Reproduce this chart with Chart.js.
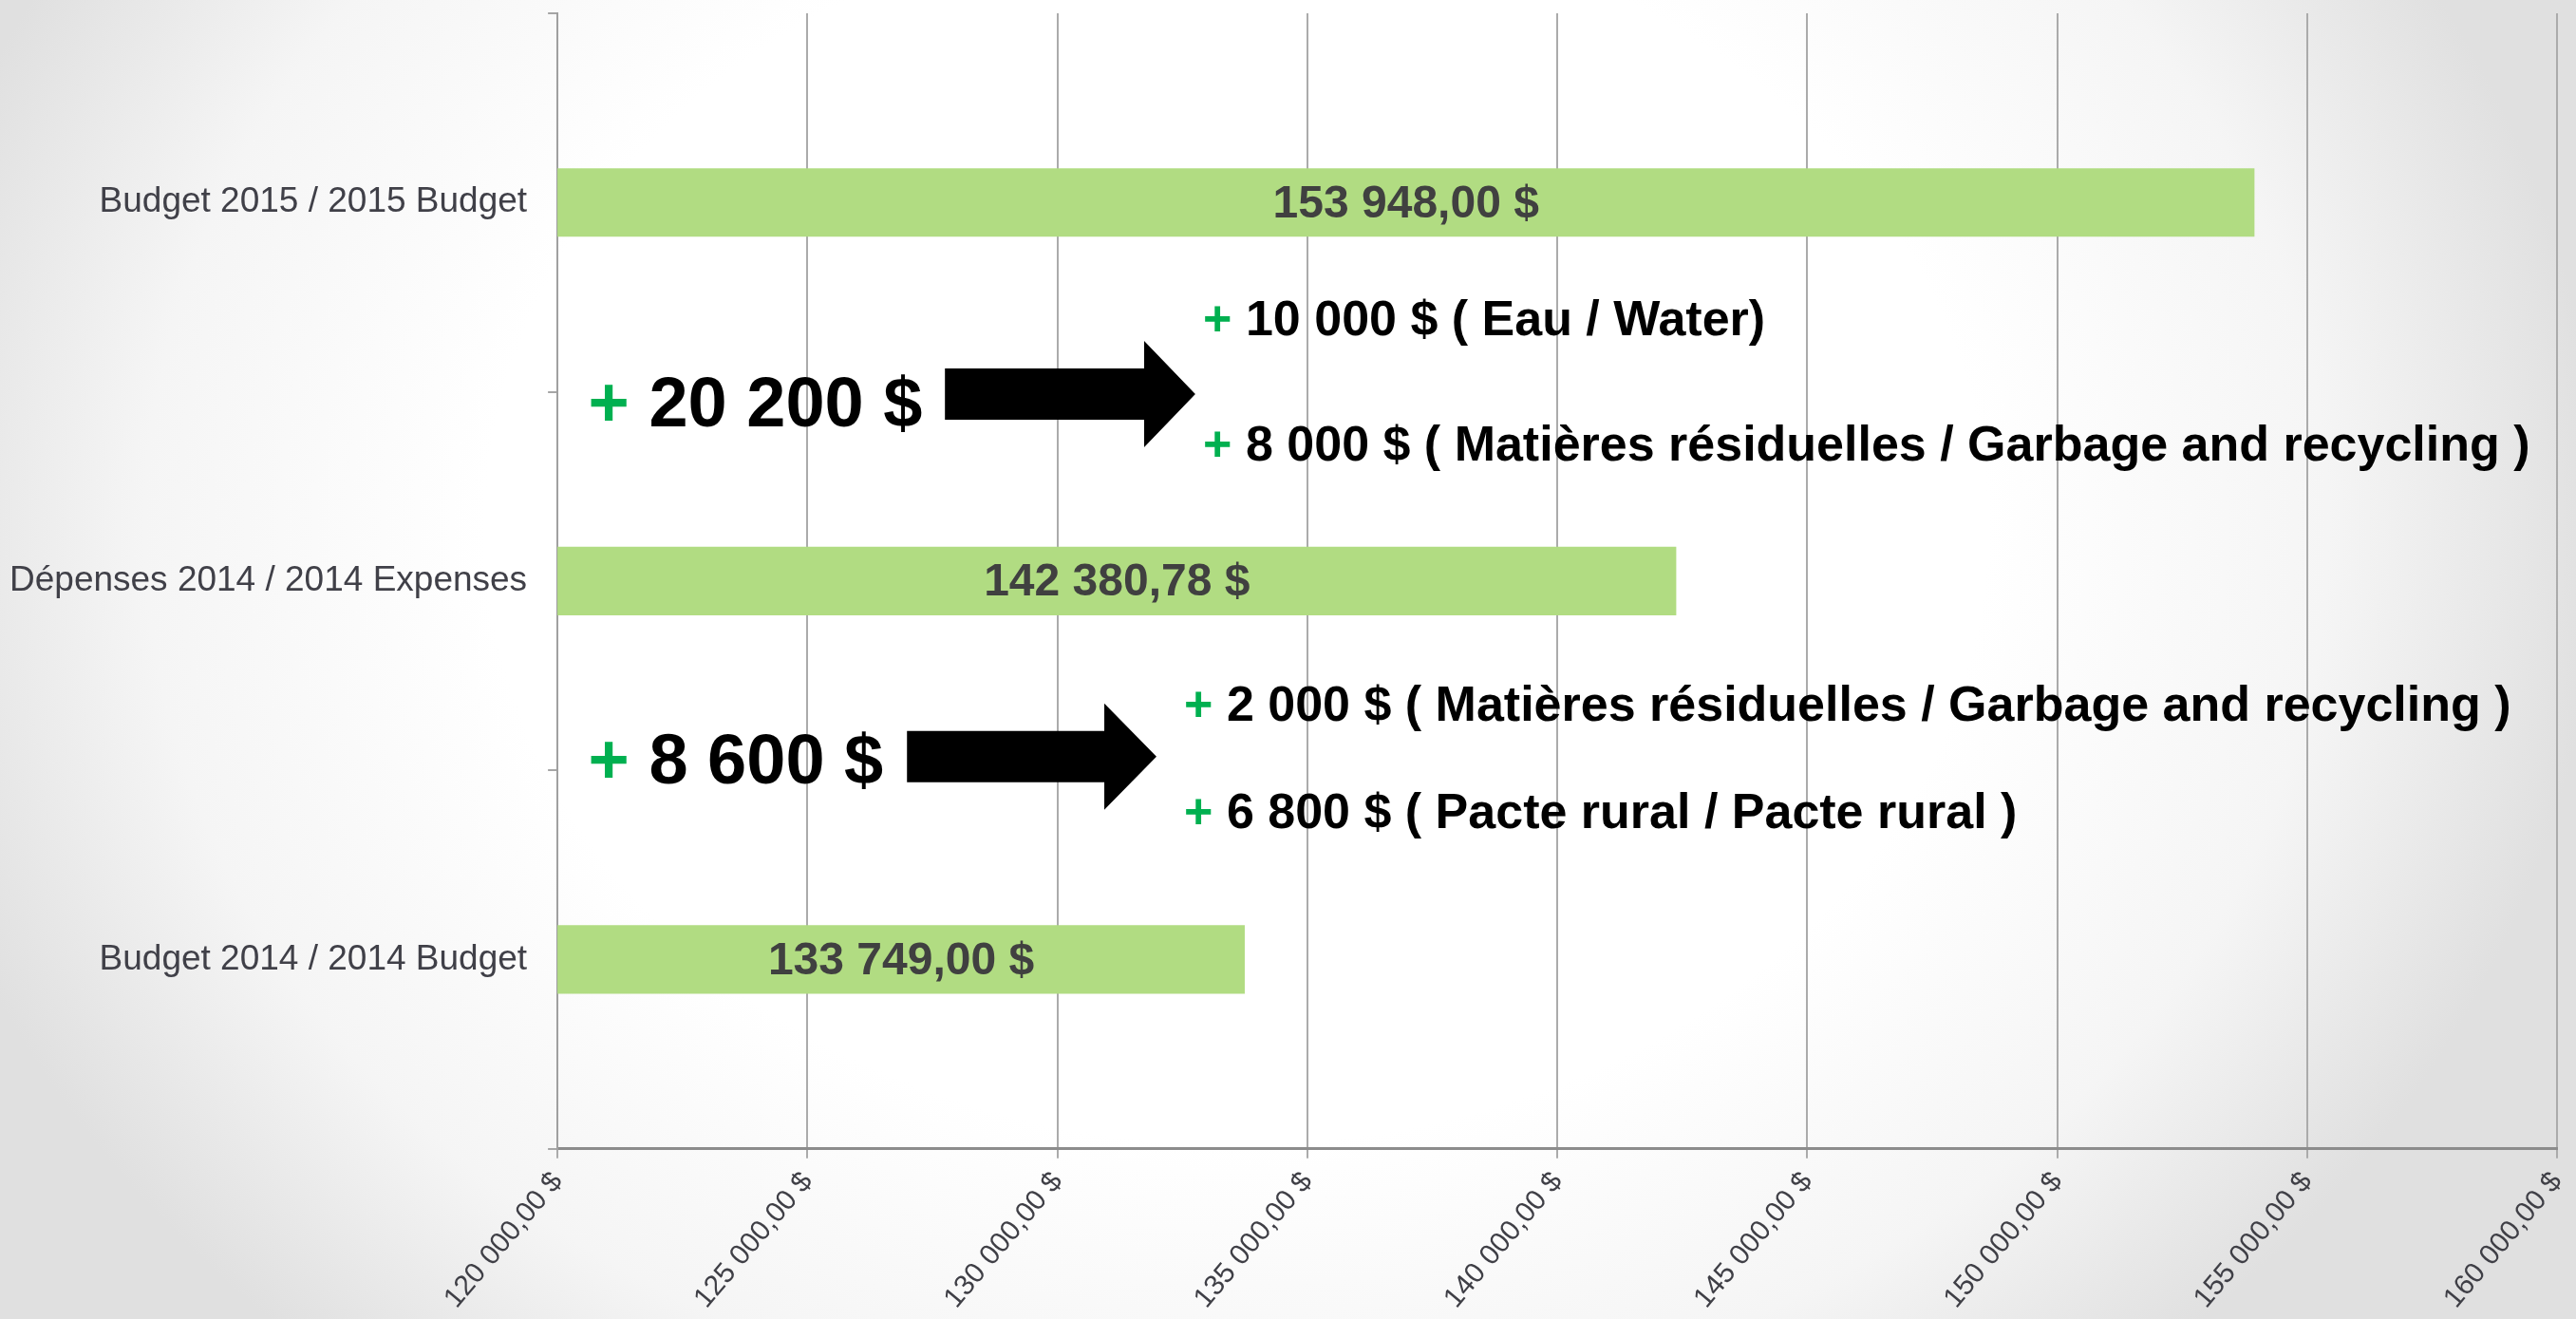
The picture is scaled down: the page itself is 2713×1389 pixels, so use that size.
<!DOCTYPE html>
<html>
<head>
<meta charset="utf-8">
<script src="https://cdn.jsdelivr.net/npm/chart.js@4/dist/chart.umd.min.js"></script>
<style>
  html, body { margin: 0; padding: 0; background: #ffffff; }
  #wrap { width: 2713px; height: 1389px; position: relative; }
  canvas { display: block; }
</style>
</head>
<body>
<div id="wrap"><canvas id="c" width="2713" height="1389"></canvas></div>
<script>
// ---------- data ----------
const categories = [
  'Budget 2015 / 2015 Budget',
  'Dépenses 2014 / 2014 Expenses',
  'Budget 2014 / 2014 Budget'
];
const amounts = [153948.00, 142380.78, 133749.00];
const amountLabels = ['153 948,00 $', '142 380,78 $', '133 749,00 $'];

const axisMin = 120000;
const axisMax = 160000;
const axisStep = 5000;

// increases shown between the bars
const increaseTotals = ['20 200 $', '8 600 $'];
const increaseDetailsFirst = [
  '10 000 $ ( Eau / Water)',
  '2 000 $ ( Matières résiduelles / Garbage and recycling )'
];
const increaseDetailsSecond = [
  '8 000 $ ( Matières résiduelles / Garbage and recycling )',
  '6 800 $ ( Pacte rural / Pacte rural )'
];

// ---------- annotation placement (in axis units) ----------
const annotationLayout = {
  totalX: [120617, 120617],
  totalY: [0.591, 1.535],
  arrowFromX: [127751, 126992],
  arrowNeckX: [131736, 130939],
  arrowTipX: [132760, 131983],
  arrowY: [0.506, 1.464],
  detailX: [132916, 132536],
  detailFirstY: [0.350, 1.369],
  detailSecondY: [0.681, 1.653]
};

const FONT = '"Liberation Sans", Arial, Helvetica, sans-serif';

function fmtMoney(v) {
  const s = Math.round(v).toString().replace(/\B(?=(\d{3})+(?!\d))/g, ' ');
  return s + ',00 $';
}

const backgroundPlugin = {
  id: 'bg',
  beforeDraw(chart) {
    const { ctx, width, height } = chart;
    ctx.save();
    const cx = width * 0.48, cy = height * 0.40;
    const rx = width * 0.53, ry = height * 0.85;
    ctx.translate(cx, cy);
    ctx.scale(1, ry / rx);
    const g = ctx.createRadialGradient(0, 0, 0, 0, 0, rx);
    g.addColorStop(0, '#ffffff');
    g.addColorStop(0.55, '#ffffff');
    g.addColorStop(0.8, '#f5f5f5');
    g.addColorStop(1, '#e0e0e0');
    ctx.fillStyle = g;
    ctx.fillRect(-width * 3, -height * 6, width * 6, height * 12);
    ctx.restore();
  }
};

function drawRun(ctx, x, y, size, text) {
  ctx.font = 'bold ' + size + 'px ' + FONT;
  ctx.textAlign = 'left';
  ctx.textBaseline = 'alphabetic';
  ctx.fillStyle = '#00b050';
  ctx.fillText('+', x, y);
  const w = ctx.measureText('+').width;
  ctx.fillStyle = '#000000';
  ctx.fillText(' ' + text, x + w, y);
}

const annotationPlugin = {
  id: 'increaseNotes',
  afterDraw(chart) {
    const { ctx } = chart;
    const xs = chart.scales.x, ys = chart.scales.y;
    ctx.save();
    // value labels centred on bars (positions through the scales)
    ctx.font = 'bold 48px ' + FONT;
    ctx.fillStyle = '#404040';
    ctx.textAlign = 'center';
    ctx.textBaseline = 'middle';
    amounts.forEach((v, i) => {
      const x1 = xs.getPixelForValue(v);
      const x0 = xs.getPixelForValue(axisMin);
      const y = ys.getPixelForValue(i);
      ctx.fillText(amountLabels[i], (x0 + x1) / 2, y + 2);
    });

    const L = annotationLayout;
    increaseTotals.forEach((t, i) => {
      drawRun(ctx, xs.getPixelForValue(L.totalX[i]), ys.getPixelForValue(L.totalY[i]), 74, t);
      const x0 = xs.getPixelForValue(L.arrowFromX[i]);
      const xn = xs.getPixelForValue(L.arrowNeckX[i]);
      const xt = xs.getPixelForValue(L.arrowTipX[i]);
      const yc = ys.getPixelForValue(L.arrowY[i]);
      const bh = 27, hh = 56;
      ctx.beginPath();
      ctx.moveTo(x0, yc - bh);
      ctx.lineTo(xn, yc - bh);
      ctx.lineTo(xn, yc - hh);
      ctx.lineTo(xt, yc);
      ctx.lineTo(xn, yc + hh);
      ctx.lineTo(xn, yc + bh);
      ctx.lineTo(x0, yc + bh);
      ctx.closePath();
      ctx.fillStyle = '#000000';
      ctx.fill();
      const dx = xs.getPixelForValue(L.detailX[i]);
      drawRun(ctx, dx, ys.getPixelForValue(L.detailFirstY[i]), 52, increaseDetailsFirst[i]);
      drawRun(ctx, dx, ys.getPixelForValue(L.detailSecondY[i]), 52, increaseDetailsSecond[i]);
    });
    ctx.restore();
  }
};

new Chart(document.getElementById('c'), {
  type: 'bar',
  data: {
    labels: categories,
    datasets: [{
      data: amounts,
      backgroundColor: '#b1dc82',
      borderWidth: 0,
      barPercentage: 0.181,
      categoryPercentage: 1.0
    }]
  },
  options: {
    indexAxis: 'y',
    responsive: false,
    animation: false,
    layout: { padding: { top: 14, right: 20, bottom: -4, left: -12 } },
    plugins: { legend: { display: false }, tooltip: { enabled: false } },
    scales: {
      x: {
        min: axisMin,
        max: axisMax,
        ticks: {
          stepSize: axisStep,
          autoSkip: false,
          minRotation: 50,
          maxRotation: 50,
          padding: 8,
          color: '#3f3f46',
          font: { family: FONT, size: 30 },
          callback: (v) => fmtMoney(v)
        },
        grid: { color: '#ababab', lineWidth: 2, tickLength: 10 },
        border: { color: '#8c8c8c', width: 3 },
        afterFit(scale) { scale.paddingLeft = 0; scale.paddingRight = 0; }
      },
      y: {
        ticks: {
          padding: 22,
          color: '#404048',
          font: { family: FONT, size: 37 }
        },
        grid: { drawOnChartArea: false, offset: true, tickLength: 10, color: '#a6a6a6', lineWidth: 2 },
        border: { color: '#a0a0a0', width: 2 },
        afterFit(scale) { scale.paddingTop = 0; scale.paddingBottom = 0; }
      }
    }
  },
  plugins: [backgroundPlugin, annotationPlugin]
});
</script>
</body>
</html>
